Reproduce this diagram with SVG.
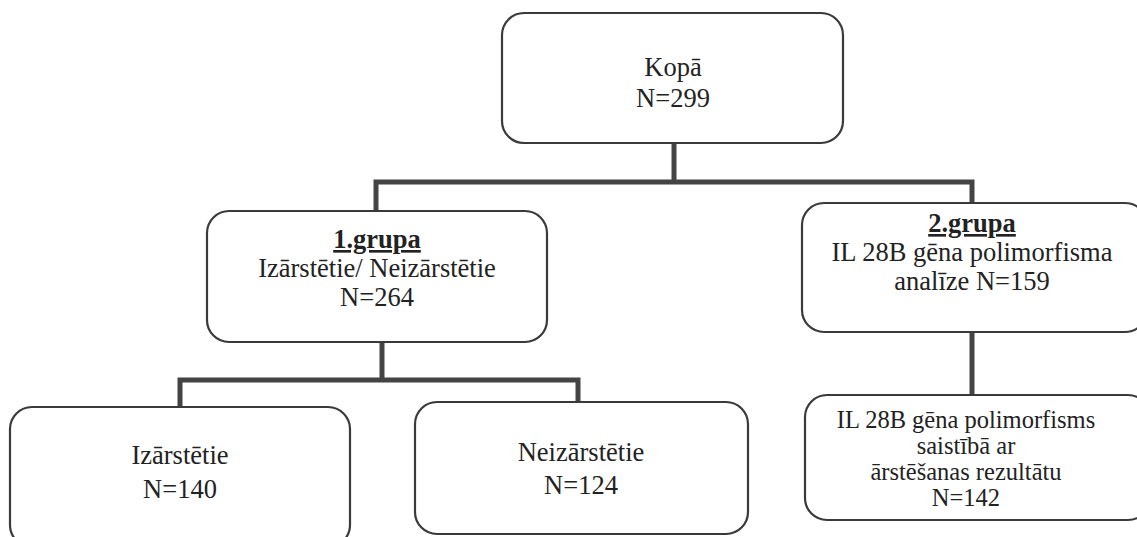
<svg xmlns="http://www.w3.org/2000/svg" width="1137" height="537" viewBox="0 0 1137 537">
<style>
.box{fill:#fff;stroke:#3a3a3a;stroke-width:2.2}
text{font-family:'Liberation Serif','Times New Roman',serif;font-size:26.5px;fill:#222;text-anchor:middle}
.b{font-weight:bold;text-decoration:underline}
.s{font-size:24.5px}
.c{fill:none;stroke:#444;stroke-width:5;stroke-linecap:square}
</style>
<rect width="1137" height="537" fill="#fff"/>
<g id="connectors">
<path class="c" d="M674 143 V182 M376 182 H972 M376 182 V211 M972 182 V203"/>
<path class="c" d="M382 342 V380 M180 380 H578 M180 380 V407 M578 380 V402"/>
<path class="c" d="M972 332 V395"/>
</g>
<g id="n-kopa">
<rect class="box" x="502" y="13" width="341" height="130" rx="22"/>
<text x="673" y="76">Kopā</text>
<text x="673" y="107">N=299</text>
</g>
<g id="n-grupa1">
<rect class="box" x="207" y="211" width="340" height="131" rx="22"/>
<text class="b" x="377" y="248">1.grupa</text>
<text x="377" y="277">Izārstētie/ Neizārstētie</text>
<text x="377" y="306">N=264</text>
</g>
<g id="n-grupa2">
<rect class="box" x="802" y="203" width="345" height="129" rx="22"/>
<text class="b" x="972" y="232">2.grupa</text>
<text x="972" y="261">IL 28B gēna polimorfisma</text>
<text x="972" y="290">analīze N=159</text>
</g>
<g id="n-izarstetie">
<rect class="box" x="10" y="407" width="340" height="140" rx="22"/>
<text x="180" y="464">Izārstētie</text>
<text x="180" y="498">N=140</text>
</g>
<g id="n-neizarstetie">
<rect class="box" x="415" y="402" width="333" height="132" rx="22"/>
<text x="581" y="461">Neizārstētie</text>
<text x="581" y="494">N=124</text>
</g>
<g id="n-il28b">
<rect class="box" x="805" y="395" width="345" height="125" rx="22"/>
<text class="s" x="966" y="428">IL 28B gēna polimorfisms</text>
<text class="s" x="966" y="454">saistībā ar</text>
<text class="s" x="966" y="480">ārstēšanas rezultātu</text>
<text class="s" x="966" y="506">N=142</text>
</g>
</svg>
